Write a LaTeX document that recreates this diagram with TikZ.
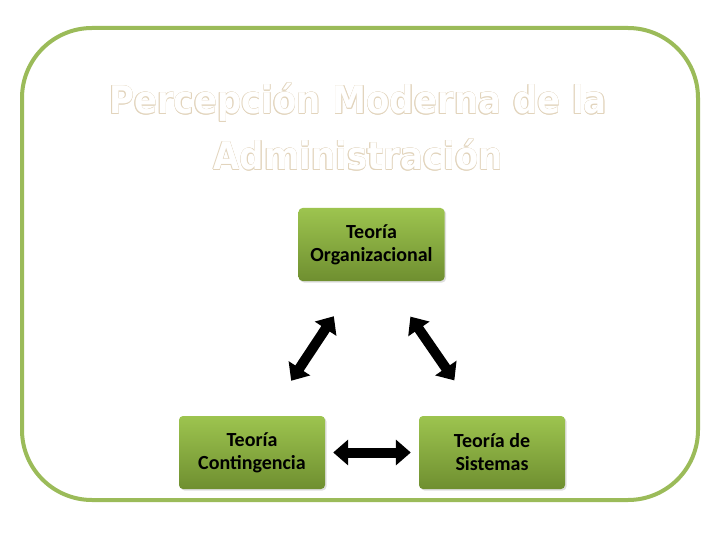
\documentclass[tikz,border=0pt]{standalone}
\usepackage{fontspec}
\setmainfont{Carlito}
\newfontfamily\titlefont{DejaVu Sans}[BoldFont={DejaVu Sans Bold}]
\usetikzlibrary{arrows.meta,shadows,calc}
\definecolor{frame}{HTML}{9BBB59}
\definecolor{boxtop}{HTML}{9DC44F}
\definecolor{boxbot}{HTML}{6F8F30}
\definecolor{titlecol}{HTML}{E2D4BC}
\tikzset{
  theory/.style={rectangle, rounded corners=4pt, minimum width=146pt, minimum height=73pt,
    top color=boxtop, bottom color=boxbot, align=center, font=\bfseries\fontsize{20}{23}\selectfont,
    drop shadow={shadow xshift=1.5pt, shadow yshift=-1.5pt, opacity=0.25}},
  dbl/.style={line width=10pt, {Triangle[length=15pt,width=25pt]}-{Triangle[length=15pt,width=25pt]}, black},
  titletext/.style={font=\titlefont\bfseries\fontsize{34}{50}\selectfont, align=center, yscale=1.12, inner sep=0pt}
}
\newcommand{\titlestr}{Percepción Moderna de la\\Administración}
\begin{document}
\begin{tikzpicture}[x=1pt,y=-1pt]
\useasboundingbox (0,0) rectangle (720,540);
\fill[white] (0,0) rectangle (720,540);
\draw[frame, line width=4pt, rounded corners=70pt] (22,28) rectangle (698,500);
\foreach \i/\a in {1/0,2/45,3/90,4/135,5/180,6/225,7/270,8/315}
  \node[titletext, text=titlecol] (tc\i) at ($(358,127)+(\a:0.5pt)$) {\titlestr};
\node[titletext, text=white] (title) at (358,127) {\titlestr};
\node[theory] (top) at (371.5,244.5) {Teoría\\Organizacional};
\node[theory] (bl) at (252,452.5) {Teoría\\Contingencia};
\node[theory] (br) at (492,452.5) {Teoría de\\Sistemas};
\draw[dbl, shorten <=42pt, shorten >=42pt] ([xshift=-14.5pt]top.south) -- ([xshift=16pt]bl.north);
\draw[dbl, shorten <=43pt, shorten >=43pt] ([xshift=14.5pt]top.south) -- ([xshift=-13.25pt]br.north);
\draw[dbl, shorten <=8pt, shorten >=8pt] (bl.east) -- (br.west);
\end{tikzpicture}
\end{document}
